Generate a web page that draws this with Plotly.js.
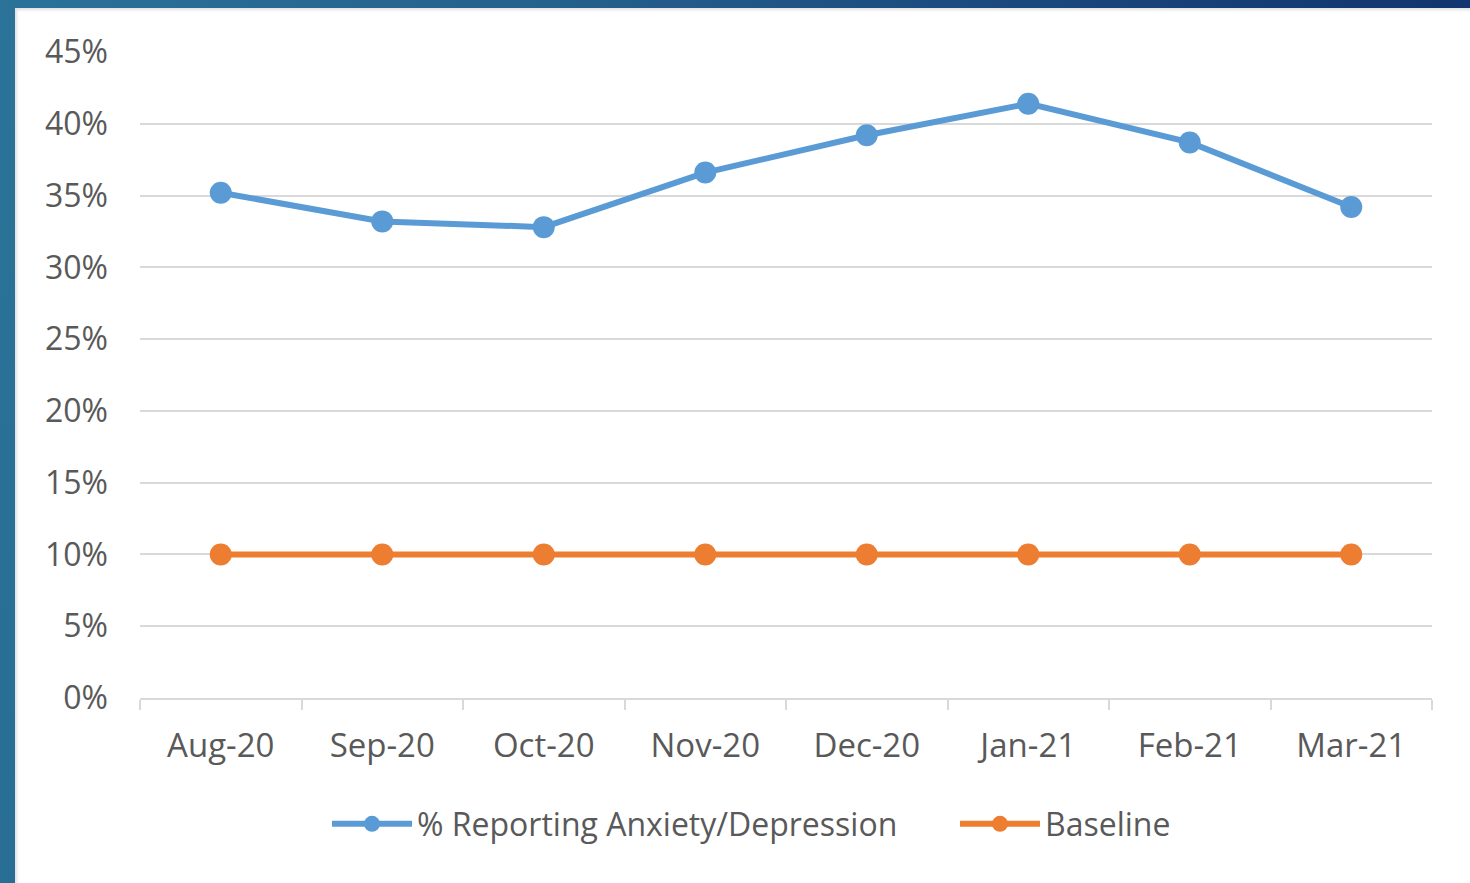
<!DOCTYPE html>
<html>
<head>
<meta charset="utf-8">
<script src="https://cdn.plot.ly/plotly-3.0.1.min.js"></script>
<style>
  html, body { margin: 0; padding: 0; width: 1470px; height: 883px; overflow: hidden; }
  body { background: linear-gradient(100deg, #2b7398 0%, #24608c 35%, #1b4a7e 60%, #0f2d6a 100%); }
  #frame { position: absolute; left: 15px; top: 8px; width: 1455px; height: 875px; background: #fff;
           box-shadow: inset 4px 4px 3px -2px rgba(0,0,0,0.12); }
  #chart { position: absolute; left: 0; top: 0; width: 1455px; height: 875px; }
</style>
</head>
<body>
<div id="frame"><div id="chart"></div></div>
<script>
const categories = ["Aug-20", "Sep-20", "Oct-20", "Nov-20", "Dec-20", "Jan-21", "Feb-21", "Mar-21"];
const anxietyValues = [0.352, 0.332, 0.328, 0.366, 0.392, 0.414, 0.387, 0.342];
const baselineValues = [0.10, 0.10, 0.10, 0.10, 0.10, 0.10, 0.10, 0.10];
const seriesNames = ["% Reporting Anxiety/Depression", "Baseline"];
const yTickValues = [0, 0.05, 0.10, 0.15, 0.20, 0.25, 0.30, 0.35, 0.40, 0.45];

const fontFam = "Open Sans, Noto Sans, sans-serif";
const traces = [
  { x: categories, y: anxietyValues, name: seriesNames[0], type: "scatter", mode: "lines+markers",
    legend: "legend",
    line: { color: "#5b9bd5", width: 6 }, marker: { color: "#5b9bd5", size: 22 } },
  { x: categories, y: baselineValues, name: seriesNames[1], type: "scatter", mode: "lines+markers",
    legend: "legend2",
    line: { color: "#ed7d31", width: 6 }, marker: { color: "#ed7d31", size: 22 } }
];
const legendCommon = { orientation: "h", xref: "container", yref: "container", xanchor: "left",
  yanchor: "middle", y: 1 - (824 - 8) / 875, font: { size: 32, color: "#595959" }, itemwidth: 80,
  bgcolor: "rgba(0,0,0,0)" };
const layout = {
  width: 1455, height: 875,
  margin: { l: 125, r: 38, t: 44, b: 185 },
  paper_bgcolor: "rgba(0,0,0,0)", plot_bgcolor: "rgba(0,0,0,0)",
  font: { family: fontFam, size: 32, color: "#595959" },
  showlegend: true,
  legend: Object.assign({}, legendCommon, { x: (332 - 15 - 5) / 1455 }),
  legend2: Object.assign({}, legendCommon, { x: (960 - 15 - 5) / 1455 }),
  xaxis: { type: "category", range: [-0.5, 7.5], tickson: "boundaries", ticks: "outside", ticklen: 10,
           tickcolor: "#d9d9d9", tickwidth: 2,
           showline: true, linecolor: "#d9d9d9", linewidth: 2, showgrid: false, ticklabelstandoff: 17,
           tickfont: { size: 33, color: "#595959" } },
  yaxis: { range: [0, 0.45], tickvals: yTickValues, tickformat: ".0%", showgrid: true, gridcolor: "#d9d9d9",
           gridwidth: 2, zeroline: false, showline: false, ticks: "", ticklabelstandoff: 31,
           tickfont: { size: 32, color: "#595959" } }
};
Plotly.newPlot("chart", traces, layout, { displayModeBar: false, staticPlot: true });
</script>
</body>
</html>
